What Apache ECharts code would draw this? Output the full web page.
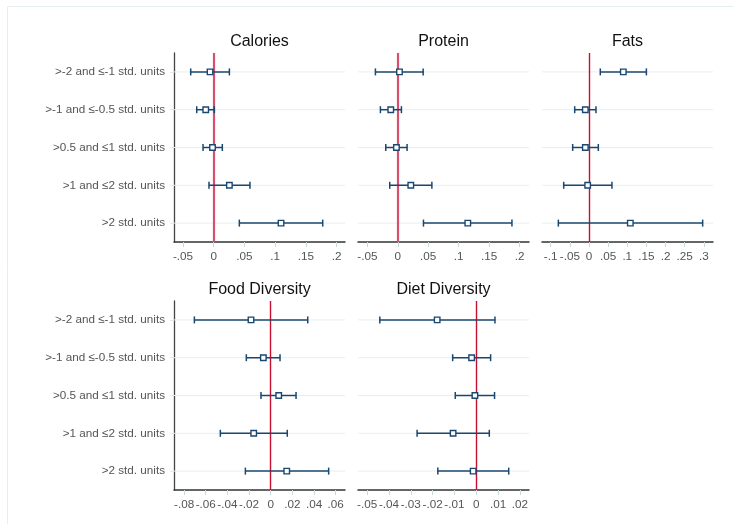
<!DOCTYPE html>
<html>
<head>
<meta charset="utf-8">
<script src="https://cdn.jsdelivr.net/npm/echarts@6/dist/echarts.min.js"></script>
<style>
	html, body { margin: 0; padding: 0; background: #fff; }
	#chart { width: 733px; height: 524px; }
</style>
</head>
<body>
<div id="chart"></div>
<script>
var categories = ['>-2 and ≤-1 std. units', '>-1 and ≤-0.5 std. units', '>0.5 and ≤1 std. units', '>1 and ≤2 std. units', '>2 std. units'];

var caloriesEst = [-0.006, -0.013, -0.002, 0.0255, 0.1096];
var caloriesLo = [-0.0375, -0.0277, -0.0174, -0.0077, 0.0417];
var caloriesHi = [0.0255, 0.001, 0.014, 0.059, 0.1775];

var proteinEst = [0.0028, -0.0115, -0.0022, 0.0214, 0.115];
var proteinLo = [-0.0367, -0.0285, -0.0197, -0.0132, 0.0422];
var proteinHi = [0.0417, 0.006, 0.0153, 0.056, 0.1875];

var fatsEst = [0.0897, -0.0095, -0.0095, -0.0034, 0.108];
var fatsLo = [0.0296, -0.0373, -0.0426, -0.066, -0.08];
var fatsHi = [0.15, 0.0183, 0.0244, 0.06, 0.297];

var foodEst = [-0.0182, -0.0068, 0.0074, -0.0157, 0.0148];
var foodLo = [-0.0705, -0.0225, -0.009, -0.0465, -0.0234];
var foodHi = [0.0342, 0.0086, 0.0234, 0.0153, 0.0535];

var dietEst = [-0.0179, -0.0021, -0.0006, -0.0106, -0.0014];
var dietLo = [-0.0442, -0.0108, -0.0096, -0.0271, -0.0176];
var dietHi = [0.0086, 0.0066, 0.0084, 0.006, 0.0149];

var caloriesTicks = [-0.05, 0, 0.05, 0.1, 0.15, 0.2];
var proteinTicks = [-0.05, 0, 0.05, 0.1, 0.15, 0.2];
var fatsTicks = [-0.1, -0.05, 0, 0.05, 0.1, 0.15, 0.2, 0.25, 0.3];
var foodTicks = [-0.08, -0.06, -0.04, -0.02, 0, 0.02, 0.04, 0.06];
var dietTicks = [-0.05, -0.04, -0.03, -0.02, -0.01, 0, 0.01, 0.02];

(function() {
	var chart = echarts.init(document.getElementById('chart'));
	var font = 'Liberation Sans, Arial, Helvetica, sans-serif';
	var navy = '#1a476f';

	var panels = [
		{ title: 'Calories', est: caloriesEst, lo: caloriesLo, hi: caloriesHi, ticks: caloriesTicks, min: -0.0647, max: 0.2138, left: 174, top: 53, labels: true, ref: '#d6506e', refW: 2.2 },
		{ title: 'Protein', est: proteinEst, lo: proteinLo, hi: proteinHi, ticks: proteinTicks, min: -0.0653, max: 0.2155, left: 358, top: 53, labels: false, ref: '#d6506e', refW: 2.2 },
		{ title: 'Fats', est: fatsEst, lo: fatsLo, hi: fatsHi, ticks: fatsTicks, min: -0.1227, max: 0.324, left: 542, top: 53, labels: false, ref: '#c8102e', refW: 1.4 },
		{ title: 'Food Diversity', est: foodEst, lo: foodLo, hi: foodHi, ticks: foodTicks, min: -0.0893, max: 0.0686, left: 174, top: 301, labels: true, ref: '#c8102e', refW: 1.4 },
		{ title: 'Diet Diversity', est: dietEst, lo: dietLo, hi: dietHi, ticks: dietTicks, min: -0.0542, max: 0.0242, left: 358, top: 301, labels: false, ref: '#c8102e', refW: 1.4 }
	];
	var W = 171, H = 189;

	function fmt(v) {
		var s = String(+v.toFixed(4));
		return s.replace(/^(-?)0\./, '$1.');
	}

	var grid = [], xAxis = [], yAxis = [], series = [], graphic = [];

	graphic.push({
		type: 'rect', silent: true, z: -10,
		shape: { x: 7.5, y: 6.5, width: 900, height: 700 },
		style: { fill: null, stroke: '#e6eef1', lineWidth: 1 }
	});

	panels.forEach(function(p, i) {
		grid.push({ left: p.left, top: p.top, width: W, height: H });
		graphic.push({
			type: 'text', x: p.left + W / 2, y: p.top - 11,
			style: { text: p.title, font: '16px ' + font, fill: '#111', textAlign: 'center', textVerticalAlign: 'middle' }
		});
		xAxis.push({
			type: 'value', gridIndex: i, min: p.min, max: p.max,
			splitLine: { show: false },
			axisLine: { show: true, onZero: false, lineStyle: { color: '#333', width: 1.5 } },
			axisTick: { show: true, length: 5, customValues: p.ticks, lineStyle: { color: '#c9d8de' } },
			axisLabel: { customValues: p.ticks, formatter: fmt, color: '#555', fontSize: 11.7, fontFamily: font, margin: 9 }
		});
		yAxis.push({
			type: 'category', gridIndex: i, data: categories, inverse: true,
			axisLine: { show: p.labels, onZero: false, lineStyle: { color: '#444', width: 1.3 } },
			axisTick: { show: p.labels, alignWithLabel: true, length: 4, lineStyle: { color: '#e3ebee' } },
			axisLabel: { show: p.labels, color: '#555', fontSize: 11.7, fontFamily: font, margin: 9 },
			splitLine: { show: false }
		});

		// horizontal guide lines at each category
		series.push({
			type: 'custom', xAxisIndex: i, yAxisIndex: i, z: 1, silent: true,
			data: categories.map(function(c, k) { return [0, k]; }),
			encode: { x: 0, y: 1 },
			renderItem: function(params, api) {
				var y = api.coord([0, api.value(1)])[1];
				var cs = params.coordSys;
				return { type: 'line', shape: { x1: cs.x, y1: y, x2: cs.x + cs.width, y2: y }, style: { stroke: '#e8eff1', lineWidth: 1 } };
			}
		});

		// confidence intervals
		series.push({
			type: 'custom', xAxisIndex: i, yAxisIndex: i, z: 3, silent: true,
			data: p.lo.map(function(v, k) { return [v, p.hi[k], k]; }),
			encode: { x: [0, 1], y: 2 },
			renderItem: function(params, api) {
				var a = api.coord([api.value(0), api.value(2)]);
				var b = api.coord([api.value(1), api.value(2)]);
				var st = { stroke: navy, lineWidth: 1.5 };
				return {
					type: 'group',
					children: [
						{ type: 'line', shape: { x1: a[0], y1: a[1], x2: b[0], y2: b[1] }, style: st },
						{ type: 'line', shape: { x1: a[0], y1: a[1] - 3.5, x2: a[0], y2: a[1] + 3.5 }, style: st },
						{ type: 'line', shape: { x1: b[0], y1: b[1] - 3.5, x2: b[0], y2: b[1] + 3.5 }, style: st }
					]
				};
			}
		});

		// point estimates + zero reference line
		series.push({
			type: 'scatter', xAxisIndex: i, yAxisIndex: i, z: 4, silent: true,
			symbol: 'rect', symbolSize: 5.5,
			itemStyle: { color: '#fff', borderColor: navy, borderWidth: 1.4, opacity: 1 },
			data: p.est.map(function(v, k) { return [v, k]; }),
			markLine: {
				silent: true, symbol: 'none', z: 2,
				label: { show: false },
				lineStyle: { color: p.ref, width: p.refW, type: 'solid' },
				data: [{ xAxis: 0 }]
			}
		});
	});

	chart.setOption({
		animation: false,
		backgroundColor: '#fff',
		grid: grid,
		xAxis: xAxis,
		yAxis: yAxis,
		series: series,
		graphic: graphic
	});
})();
</script>
</body>
</html>
